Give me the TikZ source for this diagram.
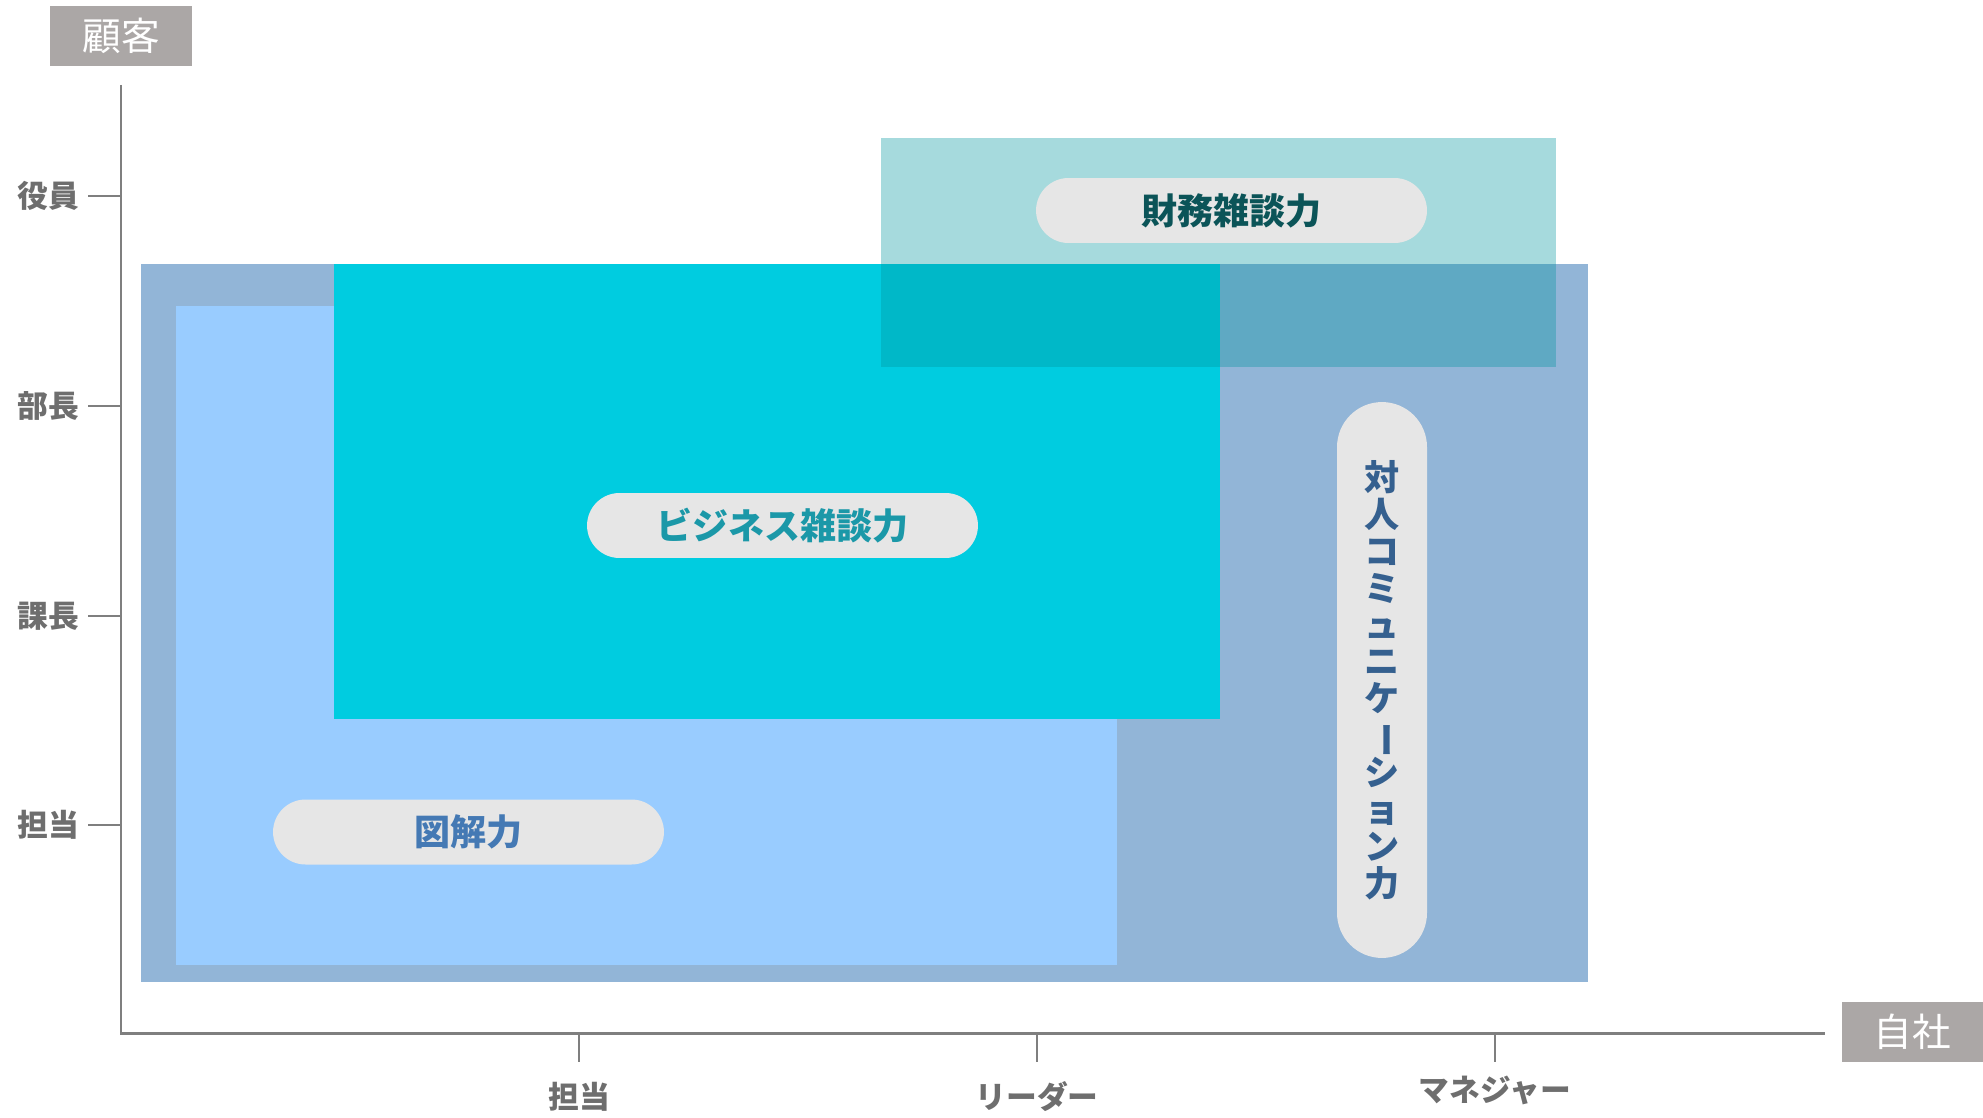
\documentclass[tikz,border=0pt]{standalone}
\usepackage{fontspec}
\setmainfont{Noto Sans CJK JP}
\definecolor{axisgray}{HTML}{7F7F7F}
\definecolor{labelgray}{HTML}{6E6E6E}
\definecolor{headgray}{HTML}{ABA7A6}
\definecolor{taijinblue}{HTML}{92B5D7}
\definecolor{zukaiblue}{HTML}{99CCFF}
\definecolor{bizcyan}{HTML}{00CCE0}
\definecolor{zaimuteal}{HTML}{00959E}
\definecolor{pillgray}{HTML}{E6E6E6}
\definecolor{zaimutext}{HTML}{0B5458}
\definecolor{biztext}{HTML}{1B98A8}
\definecolor{zukaitext}{HTML}{4479B4}
\definecolor{taijintext}{HTML}{35608F}
\newcommand{\tatebar}{\smash{\rotatebox[origin=c]{-90}{ー}}}
\begin{document}
\begin{tikzpicture}[x=0.02cm,y=-0.02cm,
  axisline/.style={draw=axisgray,line width=1.7pt},
  tickline/.style={draw=axisgray,line width=1.1pt},
  axislabel/.style={text=labelgray,font=\fontsize{17.5}{20}\selectfont\bfseries,inner sep=0pt},
  headbox/.style={fill=headgray,text=white,font=\fontsize{22}{24}\selectfont,minimum width=2.83cm,minimum height=1.2cm,inner sep=0pt},
  pill/.style={fill=pillgray,rounded corners=0.65cm,minimum width=7.82cm,minimum height=1.3cm,inner sep=0pt,font=\fontsize{20.5}{22}\selectfont\bfseries}]
 \useasboundingbox (0,0) rectangle (1983,1118);

 % skill areas
 \fill[taijinblue] (141,264) rectangle (1588,982);
 \fill[zukaiblue]  (176,306) rectangle (1117,965);
 \fill[bizcyan]    (334,264) rectangle (1220,719);
 \fill[zaimuteal,fill opacity=0.35] (881,138) rectangle (1556,367);

 % skill labels
 \node[pill,text=zaimutext] (zaimu) at (1231.5,210.5) {財務雑談力};
 \node[pill,text=biztext]   (biz)   at (782.5,525.5)  {ビジネス雑談力};
 \node[pill,text=zukaitext] (zukai) at (468.5,832)    {図解力};
 \node[pill,text=taijintext,rounded corners=0.9cm,minimum width=1.8cm,minimum height=11.12cm,
       align=center,font=\fontsize{20}{21}\selectfont\bfseries] (taijin) at (1382,680)
   {対\\人\\コ\\ミ\\ュ\\ニ\\ケ\\\tatebar\\シ\\ョ\\ン\\力};

 % axes
 \coordinate (ytop) at (121,85);
 \coordinate (origin) at (121,1033);
 \coordinate (xend) at (1825,1033);
 \draw[axisline] (ytop) -- (origin) -- (xend);
 \node[headbox] (kokyaku) at (121,36)     {顧客};
 \node[headbox] (jisha)   at (1912.5,1032) {自社};

 % customer side
 \foreach \name/\lbl/\y in {yakuin/役員/196,bucho/部長/406,kacho/課長/616,tanto/担当/825}{
   \node[axislabel] (\name) at (48,\y) {\lbl};
   \coordinate (\name-t) at (121,\y);
   \draw[tickline] (\name-t) -- ++(-33,0);
 }

 % own company side
 \foreach \name/\lbl/\x/\y in {stanto/担当/579/1097,leader/リーダー/1037/1097,manager/マネジャー/1495/1090}{
   \node[axislabel] (\name) at (\x,\y) {\lbl};
   \coordinate (\name-t) at (\x,1033);
   \draw[tickline] (\name-t) -- ++(0,29);
 }
\end{tikzpicture}
\end{document}
